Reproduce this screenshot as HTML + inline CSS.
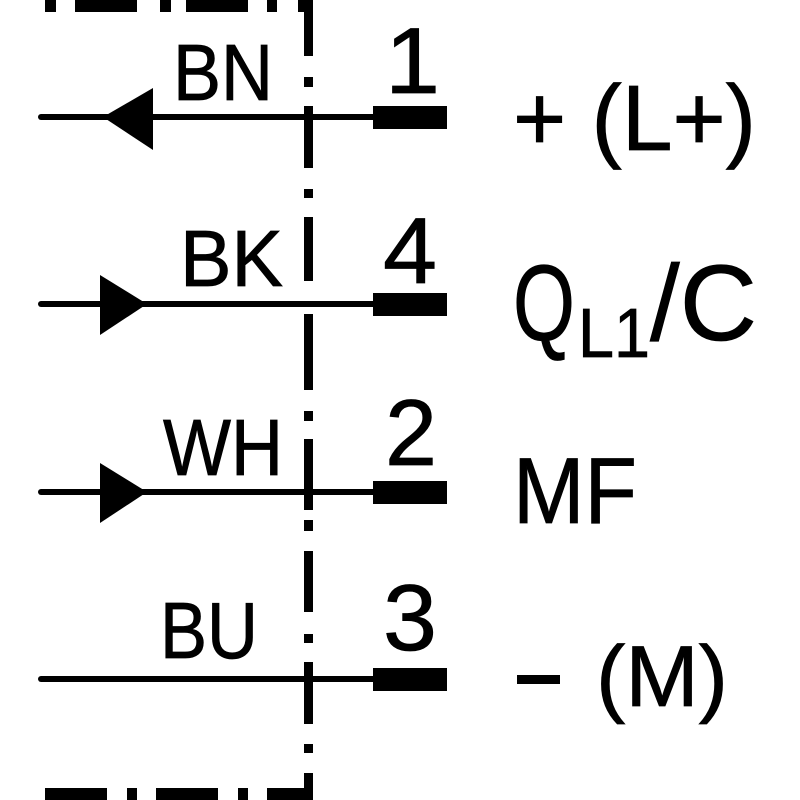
<!DOCTYPE html>
<html><head><style>html,body{margin:0;padding:0;background:#fff}svg{display:block}</style></head>
<body>
<svg width="800" height="800" viewBox="0 0 800 800" xmlns="http://www.w3.org/2000/svg" font-family="Liberation Sans, sans-serif">
<rect width="800" height="800" fill="#fff"/>
<g fill="#000">
<rect x="45" y="0" width="11" height="12"/>
<rect x="75" y="0" width="62" height="12"/>
<rect x="160" y="0" width="11" height="12"/>
<rect x="186" y="0" width="62" height="12"/>
<rect x="267" y="0" width="10" height="12"/>
<rect x="298" y="0" width="15" height="12"/>
<rect x="304" y="0" width="9" height="56"/>
<rect x="304" y="77" width="9" height="10"/>
<rect x="304" y="106" width="9" height="62"/>
<rect x="304" y="189" width="9" height="9"/>
<rect x="304" y="217" width="9" height="64"/>
<rect x="304" y="314" width="9" height="76"/>
<rect x="304" y="411" width="9" height="10"/>
<rect x="304" y="439" width="9" height="71"/>
<rect x="304" y="520" width="9" height="11"/>
<rect x="304" y="551" width="9" height="61"/>
<rect x="304" y="634" width="9" height="9"/>
<rect x="304" y="662" width="9" height="62"/>
<rect x="304" y="744" width="9" height="9"/>
<rect x="304" y="773" width="9" height="27"/>
<rect x="267" y="788" width="46" height="12"/>
<rect x="238" y="788" width="10" height="12"/>
<rect x="156" y="788" width="62" height="12"/>
<rect x="127" y="788" width="10" height="12"/>
<rect x="45" y="788" width="62" height="12"/>
<rect x="373" y="106" width="74" height="23"/>
<rect x="373" y="293" width="74" height="23"/>
<rect x="373" y="481" width="74" height="23"/>
<rect x="373" y="668" width="74" height="23"/>
<polygon points="103,117 153,88 153,150"/>
<polygon points="147,304 100,275 100,335"/>
<polygon points="147,492 100,463 100,523"/>
<rect x="517" y="675" width="43" height="9"/>
</g>
<g stroke="#000" stroke-width="6" stroke-linecap="round">
<line x1="41" y1="117" x2="375" y2="117"/>
<line x1="41" y1="304" x2="375" y2="304"/>
<line x1="41" y1="492" x2="375" y2="492"/>
<line x1="41" y1="679" x2="375" y2="679"/>
</g>
<g fill="#000" stroke="#000" stroke-width="0.8">
<text x="173" y="100" font-size="80" textLength="100" lengthAdjust="spacingAndGlyphs">BN</text>
<text x="180" y="286" font-size="80" textLength="103" lengthAdjust="spacingAndGlyphs">BK</text>
<text x="163" y="475" font-size="80" textLength="120" lengthAdjust="spacingAndGlyphs">WH</text>
<text x="160" y="658" font-size="80" textLength="98" lengthAdjust="spacingAndGlyphs">BU</text>
<text x="385" y="93" font-size="94" textLength="55" lengthAdjust="spacingAndGlyphs">1</text>
<text x="383" y="283" font-size="94" textLength="54" lengthAdjust="spacingAndGlyphs">4</text>
<text x="385" y="465" font-size="94" textLength="52" lengthAdjust="spacingAndGlyphs">2</text>
<text x="383" y="650" font-size="94" textLength="54" lengthAdjust="spacingAndGlyphs">3</text>
<text x="513" y="150" font-size="93" textLength="243" lengthAdjust="spacingAndGlyphs">+ (L+)</text>
<text x="513" y="340" font-size="108" textLength="62" lengthAdjust="spacingAndGlyphs">Q</text>
<text x="578" y="357" font-size="70" textLength="72" lengthAdjust="spacingAndGlyphs">L1</text>
<text x="650" y="340" font-size="108" textLength="107" lengthAdjust="spacingAndGlyphs">/C</text>
<text x="513" y="523" font-size="94" textLength="124" lengthAdjust="spacingAndGlyphs">MF</text>
<text x="596" y="706" font-size="86" textLength="132" lengthAdjust="spacingAndGlyphs">(M)</text>
</g>
</svg>
</body></html>
